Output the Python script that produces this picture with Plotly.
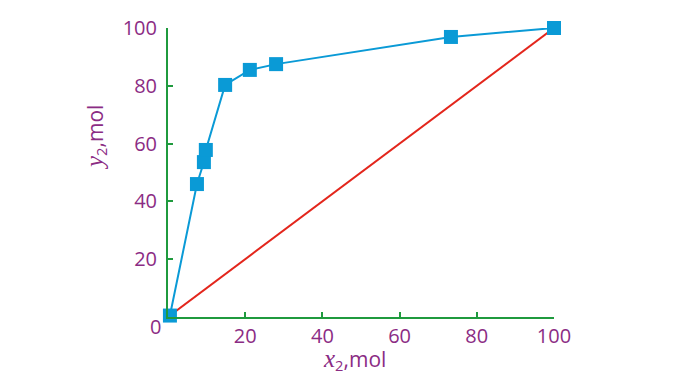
import plotly.graph_objects as go

x_data = [0.5, 7.5, 9.3, 9.8, 14.8, 21.2, 28.0, 73.3, 100.0]
y_data = [0.5, 46.0, 53.6, 57.8, 80.3, 85.5, 87.5, 96.9, 100.0]
diag_x = [0, 100]
diag_y = [0, 100]
tick_vals = [20, 40, 60, 80, 100]
tick_text = ["20", "40", "60", "80", "100"]

AXIS = "#1f9a3e"
TEXT = "#8b2c84"
BLUE = "#0a9ad6"
RED = "#e3261c"
FONT = "Open Sans"

W, H = 688, 375
plot_l, plot_r, plot_t, plot_b = 168, 554, 28, 317

fig = go.Figure()
fig.add_trace(go.Scatter(x=diag_x, y=diag_y, mode="lines",
                         line=dict(color=RED, width=2), cliponaxis=False,
                         showlegend=False))
fig.add_trace(go.Scatter(x=x_data, y=y_data, mode="lines+markers",
                         line=dict(color=BLUE, width=2),
                         marker=dict(symbol="square", size=14, color=BLUE),
                         cliponaxis=False, showlegend=False))

axis_common = dict(range=[0, 100], showgrid=False, zeroline=False,
                   showline=True, linecolor=AXIS, linewidth=2,
                   ticks="inside", ticklen=5, tickwidth=2, tickcolor=AXIS,
                   tickvals=tick_vals, ticktext=tick_text,
                   tickfont=dict(family=FONT, size=20, color=TEXT))

fig.update_layout(
    width=W, height=H,
    margin=dict(l=plot_l, r=W - plot_r, t=plot_t, b=H - plot_b),
    plot_bgcolor="white", paper_bgcolor="white",
    xaxis=dict(axis_common, ticklabelstandoff=0),
    yaxis=dict(axis_common, ticklabelstandoff=5),
)


def px2paper(px, py):
    return ((px - plot_l) / (plot_r - plot_l),
            (plot_b - py) / (plot_b - plot_t))


xt = px2paper(354, 360)
yt = px2paper(96, 138)
title_x = ("<span style='font-family:Liberation Serif;font-size:25px'><i>x</i></span>"
           "<sub>2</sub>,mol")
title_y = ("<span style='font-family:Liberation Serif;font-size:25px'><i>y</i></span>"
           "<sub>2</sub>,mol")
fig.update_layout(annotations=[
    dict(text="0", x=0, y=0, xref="x", yref="y", showarrow=False,
         xanchor="right", yanchor="middle", xshift=-5, yshift=-9,
         font=dict(family=FONT, size=20, color=TEXT)),
    dict(text=title_x, x=xt[0], y=xt[1], xref="paper", yref="paper",
         showarrow=False, xanchor="center", yanchor="middle",
         font=dict(family=FONT, size=21, color=TEXT)),
    dict(text=title_y, x=yt[0], y=yt[1], xref="paper", yref="paper",
         showarrow=False, xanchor="center", yanchor="middle", textangle=-90,
         font=dict(family=FONT, size=21, color=TEXT)),
])

fig.write_html("out.html",
               config={"displayModeBar": False},
               post_script="document.body.style.margin='0';"
                           "document.body.style.overflow='hidden';")
